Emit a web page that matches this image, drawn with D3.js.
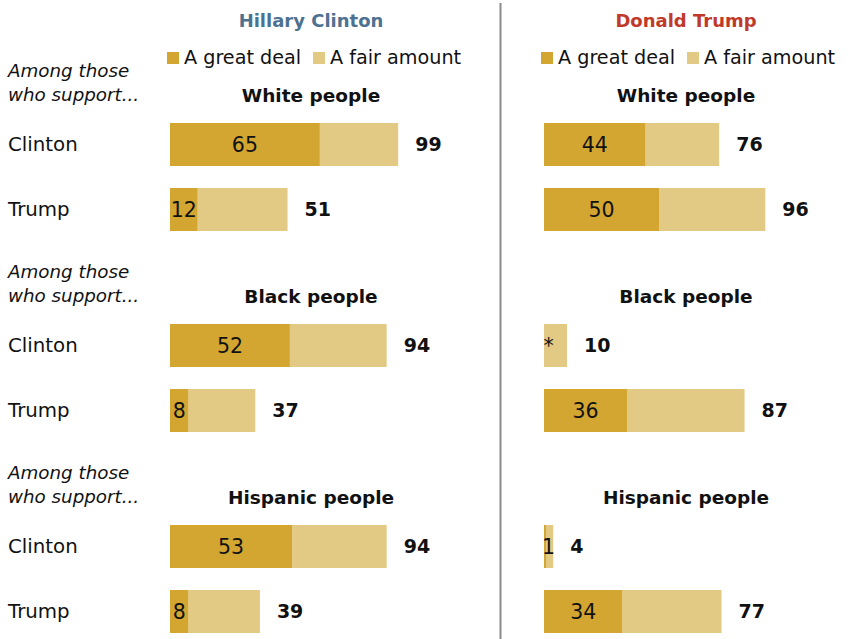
<!DOCTYPE html>
<html>
<head>
<meta charset="utf-8">
<script src="https://cdn.jsdelivr.net/npm/d3@7"></script>
<style>
  html, body { margin: 0; padding: 0; background: #fff; }
  svg { display: block; font-family: "DejaVu Sans", sans-serif; }
</style>
</head>
<body>
<svg id="chart" width="852" height="639"></svg>
<script>
// Candidates (panels), groups asked about, and supporter rows
const panels = ["Hillary Clinton", "Donald Trump"];
const groups = ["White people", "Black people", "Hispanic people"];
const supporters = ["Clinton", "Trump"];
const seriesNames = ["A great deal", "A fair amount"];

// "A great deal" share and NET total, per panel -> group -> supporter row
// (null great-deal value is shown as "*": less than 0.5%)
const greatDeal = [
  [[65, 12], [52, 8], [53, 8]],
  [[44, 50], [null, 36], [1, 34]]
];
const total = [
  [[99, 51], [94, 37], [94, 39]],
  [[76, 96], [10, 87], [4, 77]]
];

const colors = { great: "#d2a630", fair: "#e3ca84" };
const titleColors = ["#4d7190", "#bf3a2b"];

const svg = d3.select("#chart");

const panelX0 = [170, 544];
const x = d3.scaleLinear().domain([0, 100]).range([0, 230.5]);

// vertical placement: group blocks and rows within them
const groupY = d3.scaleLinear().domain([0, 1]).range([123, 324]);
const rowY = d3.scaleLinear().domain([0, 1]).range([0, 65]);
const barH = 43;

// divider between panels
svg.append("line")
  .attr("x1", 500.5).attr("x2", 500.5)
  .attr("y1", 3).attr("y2", 639)
  .attr("stroke", "#8a8a8a").attr("stroke-width", 2);

// left-side labels
groups.forEach((g, gi) => {
  const gy = groupY(gi);
  const intro = svg.append("text")
    .attr("x", 8).attr("font-style", "italic")
    .attr("font-size", 18.3).attr("fill", "#111");
  intro.append("tspan").attr("x", 8).attr("y", gy - 46).text("Among those");
  intro.append("tspan").attr("x", 8).attr("y", gy - 22).text("who support...");
  supporters.forEach((s, si) => {
    svg.append("text")
      .attr("x", 8).attr("y", gy + rowY(si) + barH / 2)
      .attr("dy", "0.35em")
      .attr("font-size", 19.8).attr("fill", "#111")
      .text(s);
  });
});

panels.forEach((p, pi) => {
  const x0 = panelX0[pi];
  const cx = pi === 0 ? 311 : 686;

  svg.append("text")
    .attr("x", cx).attr("y", 27)
    .attr("text-anchor", "middle")
    .attr("font-size", 18).attr("font-weight", "bold")
    .attr("fill", titleColors[pi])
    .text(p);

  // legend
  const legend = svg.append("g").attr("transform", `translate(${x0 - 3},52)`);
  const legendOffsets = [0, 146];
  seriesNames.forEach((name, i) => {
    const lg = legend.append("g").attr("transform", `translate(${legendOffsets[i]},0)`);
    lg.append("rect").attr("width", 12).attr("height", 12)
      .attr("fill", i === 0 ? colors.great : colors.fair);
    lg.append("text").attr("x", 17).attr("y", 12)
      .attr("font-size", 19.2).attr("fill", "#111")
      .text(name);
  });

  groups.forEach((g, gi) => {
    const gy = groupY(gi);
    svg.append("text")
      .attr("x", cx).attr("y", gy - 21)
      .attr("text-anchor", "middle")
      .attr("font-size", 18.5).attr("font-weight", "bold")
      .attr("fill", "#111")
      .text(g);

    supporters.forEach((s, si) => {
      const y = gy + rowY(si);
      const gd = greatDeal[pi][gi][si];
      const tot = total[pi][gi][si];
      const gdw = x(gd || 0);
      // fair amount segment (remainder of the total)
      svg.append("rect")
        .attr("x", x0 + gdw).attr("y", y)
        .attr("width", x(tot) - gdw).attr("height", barH)
        .attr("fill", colors.fair);
      // great deal segment
      if (gd) {
        svg.append("rect")
          .attr("x", x0).attr("y", y)
          .attr("width", gdw).attr("height", barH)
          .attr("fill", colors.great);
      }
      // value inside
      svg.append("text")
        .attr("x", x0 + Math.max(gdw / 2, 4.5))
        .attr("y", y + barH / 2).attr("dy", "0.35em")
        .attr("text-anchor", "middle")
        .attr("font-size", 20.5).attr("fill", "#111")
        .text(gd === null ? "*" : gd);
      // total to the right
      svg.append("text")
        .attr("x", x0 + x(tot) + 17)
        .attr("y", y + barH / 2).attr("dy", "0.35em")
        .attr("font-size", 19).attr("font-weight", "bold")
        .attr("fill", "#111")
        .text(tot);
    });
  });
});
</script>
</body>
</html>
